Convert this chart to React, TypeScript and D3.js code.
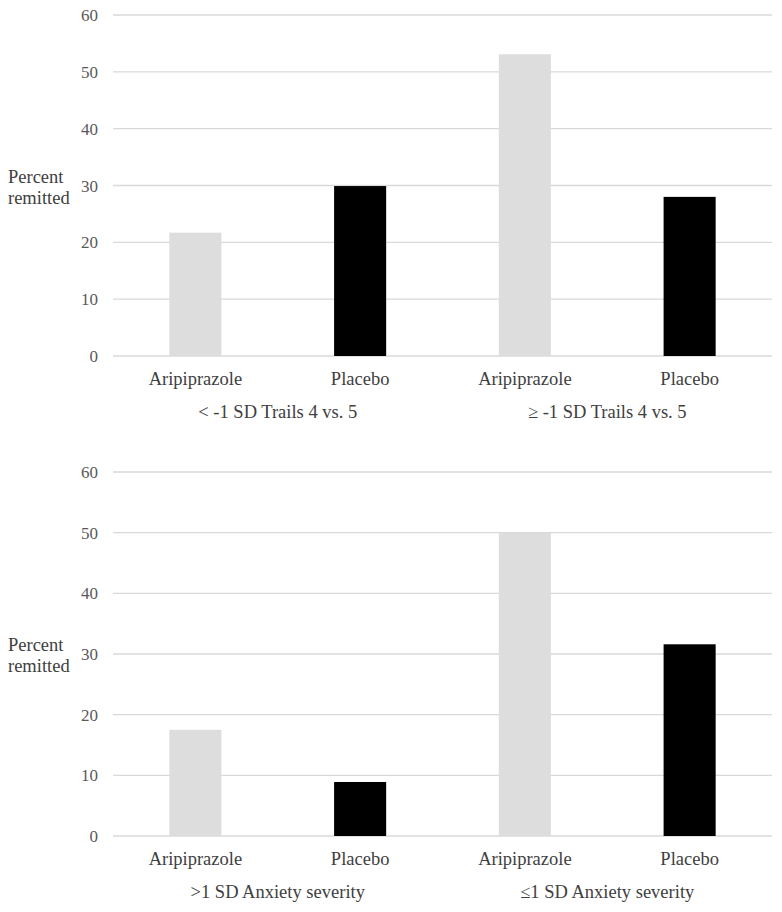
import React from "react";
import * as d3 from "d3";

const categories = ["Aripiprazole", "Placebo", "Aripiprazole", "Placebo"];
const topValues = [21.7, 29.9, 53.1, 28.0];
const bottomValues = [17.5, 8.9, 50.0, 31.6];
const topGroups = ["< -1 SD Trails 4 vs. 5", "≥ -1 SD Trails 4 vs. 5"];
const bottomGroups = [">1 SD Anxiety severity", "≤1 SD Anxiety severity"];
const yTicks = [0, 10, 20, 30, 40, 50, 60];
const barColors = ["#dddddd", "#000000", "#dddddd", "#000000"];
const yTitle = ["Percent", "remitted"];

const FF = "Liberation Serif";

function Panel({ values, groups, top, bottom }: { values: number[]; groups: string[]; top: number; bottom: number }) {
  const x = d3.scaleBand<number>().domain(d3.range(categories.length)).range([113, 772]).padding(0);
  const y = d3.scaleLinear().domain([0, 60]).range([bottom, top]);
  const bw = x.bandwidth() * 0.316;
  const mid = (top + bottom) / 2;
  return (
    <g>
      {yTicks.map((t) => (
        <line key={"g" + t} x1={113} x2={772} y1={y(t)} y2={y(t)} stroke="#d9d9d9" strokeWidth={1.3} />
      ))}
      {yTicks.map((t) => (
        <text key={"t" + t} x={98} y={y(t) + 6} textAnchor="end" fontSize={17} fill="#595959" style={{ fontFamily: FF }}>
          {String(t)}
        </text>
      ))}
      {values.map((v, i) => (
        <rect
          key={i}
          x={(x(i) as number) + x.bandwidth() / 2 - bw / 2}
          width={bw}
          y={y(v)}
          height={y(0) - y(v)}
          fill={barColors[i]}
        />
      ))}
      {categories.map((c, i) => (
        <text
          key={"c" + i}
          x={(x(i) as number) + x.bandwidth() / 2}
          y={bottom + 29}
          textAnchor="middle"
          fontSize={18.5}
          fill="#404040"
          style={{ fontFamily: FF }}
        >
          {c}
        </text>
      ))}
      {groups.map((g, j) => (
        <text
          key={"grp" + j}
          x={(x(j * 2) as number) + x.bandwidth()}
          y={bottom + 62}
          textAnchor="middle"
          fontSize={18.5}
          fill="#404040"
          style={{ fontFamily: FF }}
        >
          {g}
        </text>
      ))}
      {yTitle.map((t, k) => (
        <text key={t} x={8} y={mid + 18 + (k - 1) * 21} fontSize={18.5} fill="#404040" style={{ fontFamily: FF }}>
          {t}
        </text>
      ))}
    </g>
  );
}

export default function App() {
  return (
    <div style={{ position: "absolute", left: 0, top: 0, fontFamily: FF }}>
      <svg width={782} height={912} style={{ display: "block", background: "#fff", fontFamily: FF }}>
        <Panel values={topValues} groups={topGroups} top={15} bottom={356} />
        <Panel values={bottomValues} groups={bottomGroups} top={472} bottom={836} />
      </svg>
    </div>
  );
}
